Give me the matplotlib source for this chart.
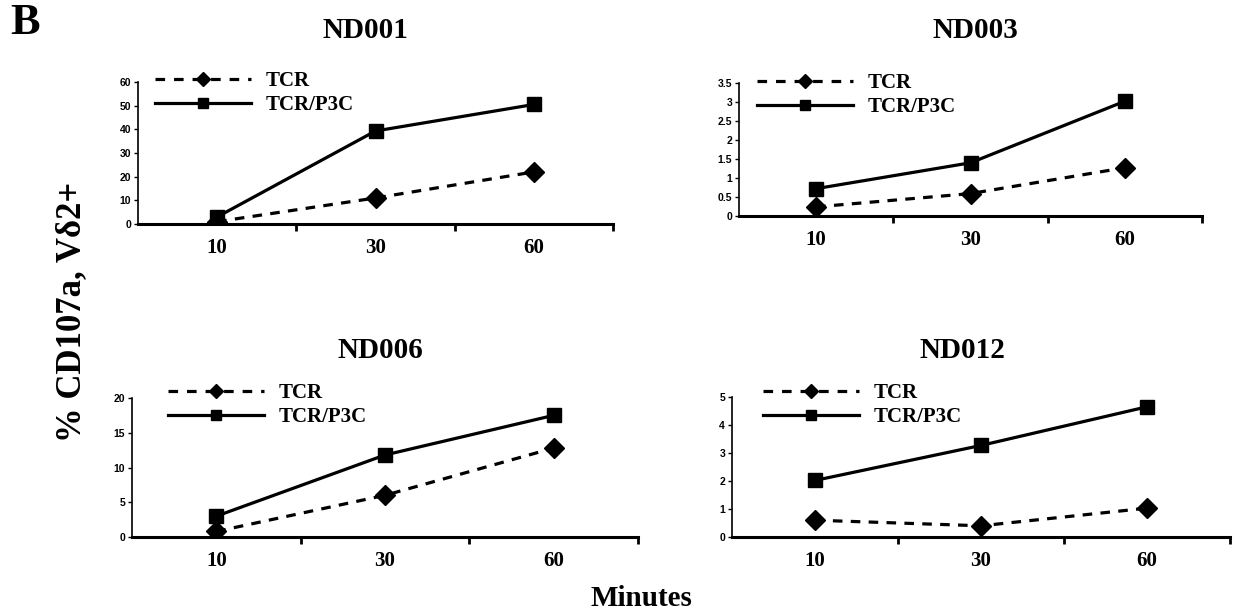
import matplotlib
matplotlib.use("Agg")
import matplotlib.pyplot as plt
from matplotlib.lines import Line2D

W, H = 1239, 614

minutes = ["10", "30", "60"]
panel_names = ["ND001", "ND003", "ND006", "ND012"]

tcr_nd001 = [1.0, 11.0, 22.0]
p3c_nd001 = [3.0, 39.3, 50.5]
tcr_nd003 = [0.24, 0.59, 1.27]
p3c_nd003 = [0.72, 1.40, 3.02]
tcr_nd006 = [0.8, 6.0, 12.8]
p3c_nd006 = [3.0, 11.8, 17.5]
tcr_nd012 = [0.6, 0.4, 1.03]
p3c_nd012 = [2.02, 3.27, 4.65]

yticks_nd001 = [0, 10, 20, 30, 40, 50, 60]
yticks_nd003 = [0, 0.5, 1, 1.5, 2, 2.5, 3, 3.5]
yticks_nd006 = [0, 5, 10, 15, 20]
yticks_nd012 = [0, 1, 2, 3, 4, 5]

tcr_series = [tcr_nd001, tcr_nd003, tcr_nd006, tcr_nd012]
p3c_series = [p3c_nd001, p3c_nd003, p3c_nd006, p3c_nd012]
yticks_all = [yticks_nd001, yticks_nd003, yticks_nd006, yticks_nd012]

# axes boxes in pixels: left, right, bottom, top
boxes = [(138, 613, 224, 82), (739, 1202, 216, 83),
         (132, 638, 537, 398), (732, 1230, 537, 397)]
# title centers (px)
titles_xy = [(365, 30), (975, 30), (380, 350), (962, 350)]
# legend anchor: handle start x, first row center y
legend_xy = [(155, 80), (757, 82), (168, 392), (763, 392)]

serif = "Liberation Serif"
sans = "Liberation Sans"

fig = plt.figure(figsize=(W / 100, H / 100), dpi=100)

for i in range(4):
    l, r, b, t = boxes[i]
    ax = fig.add_axes([l / W, 1 - b / H, (r - l) / W, (b - t) / H])
    x = list(range(len(minutes)))
    yt = yticks_all[i]
    ax.plot(x, tcr_series[i], color="black", lw=2.3, ls=(0, (3.0, 2.6)),
            marker="D", ms=10, mfc="black", mec="black", zorder=3)
    ax.plot(x, p3c_series[i], color="black", lw=2.3, ls="-",
            marker="s", ms=10, mfc="black", mec="black", zorder=4)
    ax.set_xlim(-0.5, 2.5)
    ax.set_ylim(0, yt[-1])
    ax.set_yticks(yt)
    ax.set_yticklabels([("%g" % v) for v in yt], fontsize=7.5,
                       fontweight="bold", family=sans)
    ax.set_xticks(x)
    ax.set_xticklabels(minutes, fontsize=15, fontweight="bold", family=serif)
    ax.set_xticks([0.5, 1.5, 2.5], minor=True)
    ax.tick_params(axis="x", which="major", length=0, pad=10)
    ax.tick_params(axis="x", which="minor", length=5, width=2, direction="out")
    ax.tick_params(axis="y", length=3, width=1, direction="out", pad=2)
    for s in ["top", "right"]:
        ax.spines[s].set_visible(False)
    ax.spines["bottom"].set_linewidth(2.2)
    ax.spines["left"].set_linewidth(1.2)
    ax.patch.set_alpha(0)

    handles = [
        Line2D([], [], color="black", lw=2.3, ls=(0, (3.0, 2.8)),
               marker="D", ms=7, mfc="black", mec="black"),
        Line2D([], [], color="black", lw=2.3, ls="-",
               marker="s", ms=7, mfc="black", mec="black"),
    ]
    lx, ly = legend_xy[i]
    ax.legend(handles, ["TCR", "TCR/P3C"], loc="upper left",
              bbox_to_anchor=(lx / W, 1 - (ly - 9) / H),
              bbox_transform=fig.transFigure, frameon=False,
              borderpad=0, borderaxespad=0, handlelength=4.6,
              handletextpad=0.7, labelspacing=0.2,
              prop={"family": serif, "weight": "bold", "size": 15})

    tx, ty = titles_xy[i]
    fig.text(tx / W, 1 - ty / H, panel_names[i], ha="center", va="center",
             fontsize=21, fontweight="bold", family=serif)

fig.text(25 / W, 1 - 23 / H, "B", ha="center", va="center",
         fontsize=32, fontweight="bold", family=serif)
fig.text(72 / W, 1 - 312 / H, "% CD107a, V\u03b42+", ha="center", va="center",
         rotation=90, fontsize=25, fontweight="bold",
         family=[serif, "DejaVu Serif"])
fig.text(641 / W, 1 - 598 / H, "Minutes", ha="center", va="center",
         fontsize=21, fontweight="bold", family=serif)

fig.savefig("out.png", dpi=100)
